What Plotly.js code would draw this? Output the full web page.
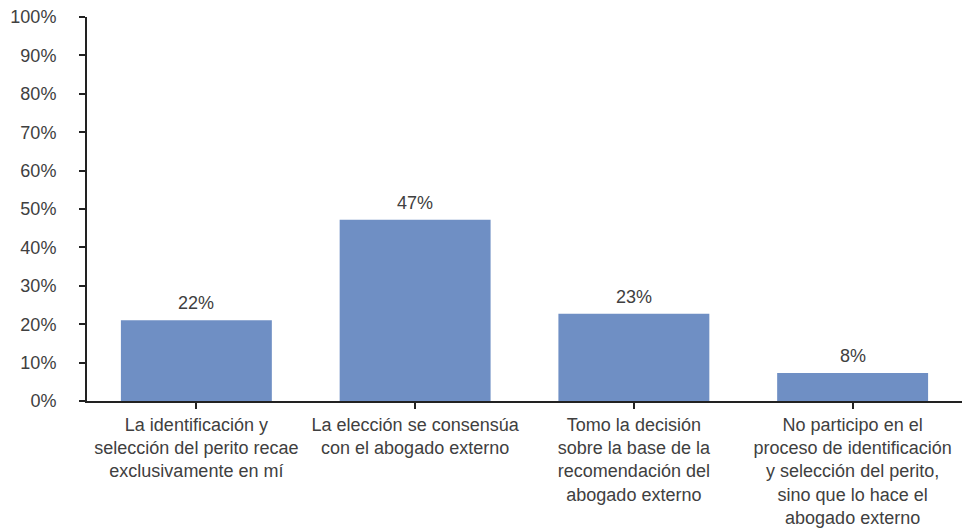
<!DOCTYPE html>
<html>
<head>
<meta charset="utf-8">
<script src="https://cdn.plot.ly/plotly-3.0.1.min.js"></script>
<style>html,body{margin:0;padding:0;background:#fff;}#chart{width:963px;height:530px;}</style>
</head>
<body>
<div id="chart"></div>
<script>
var categories = [
  "La identificación y<br>selección del perito recae<br>exclusivamente en mí",
  "La elección se consensúa<br>con el abogado externo",
  "Tomo la decisión<br>sobre la base de la<br>recomendación del<br>abogado externo",
  "No participo en el<br>proceso de identificación<br>y selección del perito,<br>sino que lo hace el<br>abogado externo"
];
var values = [21, 47.2, 22.7, 7.3];
var valueLabels = ["22%", "47%", "23%", "8%"];
var yTickVals = [0, 10, 20, 30, 40, 50, 60, 70, 80, 90, 100];

var xIdx = categories.map(function(_, i){ return i; });
var textColor = "#404040";
var fontFam = "Liberation Sans, Arial, sans-serif";

var trace = {
  type: "bar",
  x: xIdx,
  y: values,
  marker: {color: "#6f8fc4"},
  width: 0.69,
  hoverinfo: "none"
};

var annotations = values.map(function(v, i){
  return {x: i, y: v, text: valueLabels[i], showarrow: false, xref: "x", yref: "y",
          yanchor: "bottom", yshift: 5, font: {family: fontFam, size: 18, color: textColor}};
});

var layout = {
  width: 963, height: 530,
  margin: {l: 87, r: 1, t: 17, b: 129},
  paper_bgcolor: "#fff", plot_bgcolor: "#fff",
  showlegend: false,
  font: {family: fontFam, size: 18, color: textColor},
  xaxis: {
    range: [-0.5, 3.5],
    tickmode: "array",
    tickvals: xIdx,
    ticktext: categories,
    tickson: "boundaries",
    ticks: "outside", ticklen: 6, tickwidth: 2, tickcolor: "#222",
    showline: true, linecolor: "#222", linewidth: 2,
    showgrid: false, zeroline: false,
    tickfont: {family: fontFam, size: 18, color: textColor},
    fixedrange: true
  },
  yaxis: {
    range: [0, 100],
    tickmode: "array",
    tickvals: yTickVals,
    ticktext: yTickVals.map(function(v){ return v + "%"; }),
    ticks: "outside", ticklen: 6, tickwidth: 2, tickcolor: "#222",
    showline: true, linecolor: "#222", linewidth: 2,
    showgrid: false, zeroline: false,
    ticklabelstandoff: 19,
    tickfont: {family: fontFam, size: 18, color: textColor},
    fixedrange: true
  },
  annotations: annotations
};

Plotly.newPlot("chart", [trace], layout, {displayModeBar: false, staticPlot: true});
</script>
</body>
</html>
